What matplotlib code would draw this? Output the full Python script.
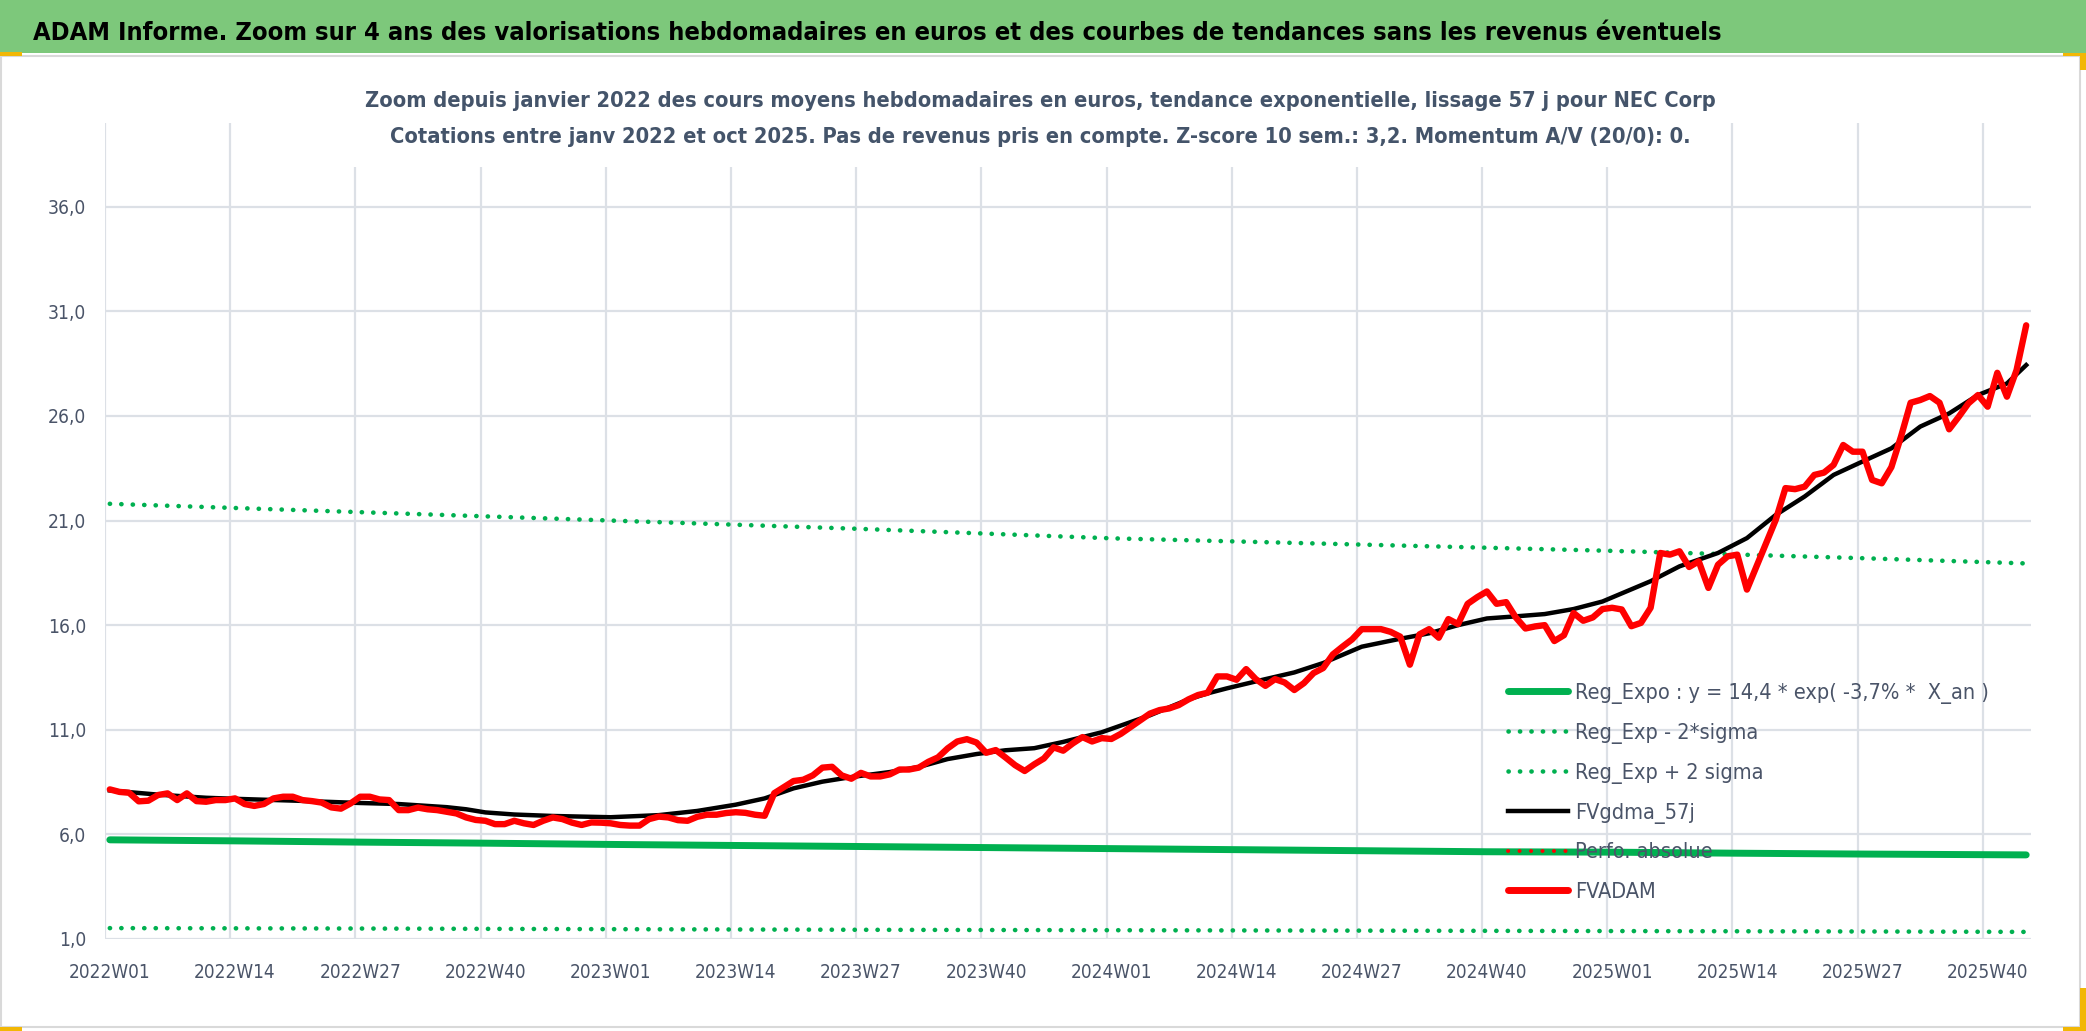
import matplotlib
matplotlib.use("Agg")
import matplotlib.pyplot as plt
from matplotlib.lines import Line2D
from matplotlib.patches import Rectangle
from matplotlib.ticker import FuncFormatter

plt.rcParams['font.family'] = ['Liberation Sans Narrow', 'DejaVu Sans']
plt.rcParams['font.stretch'] = 'condensed'

# ---- data -------------------------------------------------------------
years = [2022, 2023, 2024, 2025]
weeks_per_year = [52, 52, 52, 44]
week_labels = [f"{y}W{w:02d}" for y, n in zip(years, weeks_per_year) for w in range(1, n + 1)]
label_step = 13

# FVADAM : cours moyens hebdomadaires (euros)
fvadam = [
    8.15, 8.03, 7.99, 7.58, 7.61, 7.88, 7.96, 7.64, 7.96, 7.59, 7.56, 7.64, 7.64,
    7.72, 7.45, 7.36, 7.45, 7.72, 7.80, 7.80, 7.64, 7.59, 7.52, 7.29, 7.23, 7.48,
    7.80, 7.80, 7.67, 7.64, 7.16, 7.16, 7.28, 7.20, 7.16, 7.08, 7.00, 6.81, 6.69,
    6.65, 6.49, 6.49, 6.65, 6.53, 6.45, 6.65, 6.81, 6.73, 6.56, 6.45, 6.57, 6.56,
    6.53, 6.45, 6.42, 6.42, 6.73, 6.85, 6.81, 6.68, 6.65, 6.84, 6.94, 6.94, 7.02,
    7.06, 7.03, 6.94, 6.89, 7.97, 8.26, 8.55, 8.61, 8.82, 9.19, 9.23, 8.82, 8.66,
    8.94, 8.77, 8.77, 8.87, 9.10, 9.10, 9.19, 9.47, 9.68, 10.11, 10.44, 10.55, 10.39,
    9.90, 10.03, 9.68, 9.31, 9.03, 9.35, 9.63, 10.16, 10.00, 10.35, 10.65, 10.44, 10.60,
    10.56, 10.81, 11.13, 11.45, 11.77, 11.94, 12.02, 12.18, 12.45, 12.66, 12.77, 13.55, 13.55,
    13.39, 13.90, 13.42, 13.10, 13.42, 13.26, 12.90, 13.23, 13.71, 13.95, 14.60, 14.97, 15.32,
    15.81, 15.81, 15.81, 15.68, 15.45, 14.11, 15.56, 15.81, 15.40, 16.29, 16.05, 17.02, 17.34,
    17.61, 17.02, 17.10, 16.37, 15.84, 15.94, 16.00, 15.24, 15.52, 16.58, 16.21, 16.37, 16.77,
    16.83, 16.75, 15.95, 16.11, 16.83, 19.45, 19.37, 19.53, 18.78, 19.05, 17.78, 18.89, 19.29,
    19.37, 17.70, 18.81, 19.92, 21.04, 22.55, 22.50, 22.62, 23.18, 23.29, 23.66, 24.61, 24.29,
    24.29, 22.94, 22.78, 23.55, 25.01, 26.63, 26.76, 26.95, 26.63, 25.36, 25.96, 26.60, 27.00,
    26.44, 28.06, 26.92, 28.19, 30.33,
]

# FVgdma_57j : lissage, lu sur quelques semaines
gdma_idx = [0, 5, 10, 13, 20, 26, 30, 35, 37, 39, 42, 46, 52, 57, 61, 65, 68, 71, 74, 77,
            81, 84, 87, 90, 93, 96, 99, 103, 108, 112, 114, 116, 120, 123, 126, 130, 134,
            137, 140, 143, 146, 149, 152, 155, 160, 163, 167, 170, 173, 176, 179, 182, 185,
            188, 191, 194, 197, 199]
gdma_val = [8.10, 7.90, 7.75, 7.70, 7.60, 7.50, 7.45, 7.30, 7.20, 7.05, 6.95, 6.88, 6.82,
            6.92, 7.12, 7.42, 7.72, 8.20, 8.52, 8.74, 8.98, 9.22, 9.60, 9.84, 10.02, 10.12,
            10.42, 10.88, 11.69, 12.45, 12.74, 12.98, 13.42, 13.74, 14.19, 14.97, 15.35,
            15.61, 16.00, 16.32, 16.42, 16.53, 16.77, 17.13, 18.10, 18.81, 19.45, 20.16,
            21.27, 22.15, 23.18, 23.82, 24.45, 25.49, 26.12, 27.00, 27.55, 28.43]

# regression exponentielle et bandes +/- 2 sigma
reg_idx = [0, 13, 26, 39, 52, 65, 78, 91, 104, 117, 130, 143, 156, 169, 182, 199]
reg_val = [5.74, 5.69, 5.63, 5.58, 5.52, 5.47, 5.42, 5.37, 5.32, 5.27, 5.22, 5.17, 5.15,
           5.10, 5.06, 5.02]
band_idx = [0, 26, 52, 78, 104, 130, 156, 182, 199]
band_low = [1.52, 1.50, 1.47, 1.44, 1.42, 1.40, 1.38, 1.36, 1.34]
band_high = [21.80, 21.40, 21.00, 20.60, 20.15, 19.85, 19.55, 19.20, 18.95]

y_ticks = [1, 6, 11, 16, 21, 26, 31, 36]

title = ("ADAM Informe. Zoom sur 4 ans des valorisations hebdomadaires en euros "
         "et des courbes de tendances sans les revenus éventuels")
sub1 = ("Zoom depuis janvier 2022 des cours moyens hebdomadaires en euros, "
        "tendance exponentielle, lissage 57 j pour NEC Corp")
sub2 = ("Cotations entre janv 2022 et oct 2025. Pas de revenus pris en compte. "
        "Z-score 10 sem.: 3,2. Momentum A/V (20/0): 0.")
leg_labels = ["Reg_Expo : y = 14,4 * exp( -3,7% *  X_an )", "Reg_Exp - 2*sigma",
              "Reg_Exp + 2 sigma", "FVgdma_57j", "Perfo. absolue", "FVADAM"]

# ---- figure -----------------------------------------------------------
W, H = 2086, 1031
fig = plt.figure(figsize=(W / 100, H / 100), dpi=100, facecolor='white')
PT = 72 / 100  # points per pixel


def fx(px):
    return px / W


def fy(py):
    return 1 - py / H


ax = fig.add_axes([fx(105), fy(939), fx(2031) - fx(105), fy(123) - fy(939)])
ax.set_facecolor('white')
for s in ax.spines.values():
    s.set_visible(False)

n = len(week_labels)
x = list(range(n))
ax.set_xlim(-0.5, n - 0.5)
ax.set_ylim(1, 40)

grid_c = '#DCE0E6'
for yv in y_ticks:
    ax.axhline(yv, color=grid_c, lw=1.6, zorder=0.5)
for k in range(0, n, label_step):
    ax.axvline(k - 0.5, color=grid_c, lw=1.6, zorder=0.5)

green = '#00B050'
dot = (0, (0.05, 2.45))
ax.plot(reg_idx, reg_val, color=green, lw=5, solid_capstyle='round', zorder=3)
ax.plot(band_idx, band_low, color=green, lw=3.3, linestyle=dot, dash_capstyle='round', zorder=3)
ax.plot(band_idx, band_high, color=green, lw=3.3, linestyle=dot, dash_capstyle='round', zorder=3)
ax.plot(gdma_idx, gdma_val, color='black', lw=3.2, solid_joinstyle='round', zorder=4)
ax.plot(x, fvadam, color='#FF0000', lw=4.6, solid_joinstyle='round', solid_capstyle='round', zorder=5)

txt_c = '#4A5468'
ax.set_yticks(y_ticks)
ax.yaxis.set_major_formatter(FuncFormatter(lambda v, p: f"{v:.1f}".replace('.', ',')))
ax.set_xticks(x[::label_step])
ax.set_xticklabels(week_labels[::label_step])
ax.tick_params(axis='both', length=0, colors=txt_c, labelsize=15.5)
ax.tick_params(axis='y', pad=19 * PT)
ax.tick_params(axis='x', pad=18 * PT)

handles = [
    Line2D([], [], color=green, lw=5, solid_capstyle='round'),
    Line2D([], [], color=green, lw=3.3, linestyle=dot, dash_capstyle='round'),
    Line2D([], [], color=green, lw=3.3, linestyle=dot, dash_capstyle='round'),
    Line2D([], [], color='black', lw=3.2),
    Line2D([], [], color='#FF0000', lw=2.8, linestyle=(0, (0.05, 2.9)), dash_capstyle='round'),
    Line2D([], [], color='#FF0000', lw=5, solid_capstyle='round'),
]


def make_legend(fs, spacing, top):
    fs_px = fs / PT
    lg = ax.legend(handles, leg_labels, loc='upper left',
                   bbox_to_anchor=(fx(1508), fy(top)), bbox_transform=fig.transFigure,
                   frameon=False, fontsize=fs, handlelength=60 / fs_px,
                   handletextpad=7 / fs_px, labelspacing=spacing,
                   borderpad=0, borderaxespad=0, labelcolor=txt_c)
    lg.set_zorder(6)
    return lg


# header bar and chart frame
fig.patches.append(Rectangle((0, fy(53)), 1, fy(0) - fy(53), transform=fig.transFigure,
                             facecolor='#7DC87B', edgecolor='none', zorder=0))
fig.patches.append(Rectangle((fx(1), fy(1027)), fx(2080) - fx(1), fy(56) - fy(1027),
                             transform=fig.transFigure, facecolor='none',
                             edgecolor='#D9D9D9', lw=1.5, zorder=1))
# white box behind the chart title
fig.patches.append(Rectangle((fx(345), fy(167)), fx(1725) - fx(345), fy(60) - fy(167),
                             transform=fig.transFigure, facecolor='white',
                             edgecolor='none', zorder=1))
# small selection marks
for (x0, y0, x1, y1) in [(0, 52, 22, 56), (2063, 53, 2086, 56), (2080, 53, 2086, 70),
                         (0, 1027, 22, 1031), (2080, 988, 2086, 1031), (2063, 1027, 2086, 1031)]:
    fig.patches.append(Rectangle((fx(x0), fy(y1)), fx(x1) - fx(x0), fy(y0) - fy(y1),
                                 transform=fig.transFigure, facecolor='#F2B705',
                                 edgecolor='none', zorder=2))

t_title = fig.text(fx(33), fy(40), title, fontsize=23, fontweight='bold', color='black',
                   ha='left', va='baseline')
t_sub1 = fig.text(fx(1040), fy(107), sub1, fontsize=16, fontweight='bold', color='#44546A',
                  ha='center', va='baseline')
t_sub2 = fig.text(fx(1040), fy(143), sub2, fontsize=16, fontweight='bold', color='#44546A',
                  ha='center', va='baseline')

# ---- fit text sizes to the widths measured on the reference -------------
fig.canvas.draw()
r = fig.canvas.get_renderer()
w = t_title.get_window_extent(r).width
t_title.set_fontsize(min(23 * 1697 / w, 23 * 1.3))
w = t_sub1.get_window_extent(r).width
fs_sub = min(16 * 1356 / w, 16 * 1.3)
t_sub1.set_fontsize(fs_sub)
t_sub2.set_fontsize(fs_sub)

xl = ax.get_xticklabels()[0]
fs_xtick = min(15.5 * 81 / xl.get_window_extent(r).width, 17)
yl = ax.get_yticklabels()[2]  # "11,0"
fs_ytick = min(15.5 * 38 / yl.get_window_extent(r).width, 19)
ax.tick_params(axis='x', labelsize=fs_xtick)
ax.tick_params(axis='y', labelsize=fs_ytick)

leg = make_legend(18, 0.45, 679)
fig.canvas.draw()
w0 = leg.get_texts()[0].get_window_extent(r).width
fs_leg = min(18 * 415 / w0, 20)
leg.remove()
leg = make_legend(fs_leg, 0.45, 679)
fig.canvas.draw()
h_txt = leg.get_texts()[0].get_window_extent(r).height
spacing = max((40 - h_txt) * PT / fs_leg, 0.05)
leg.remove()
leg = make_legend(fs_leg, spacing, 679)
fig.canvas.draw()
# shift legend so that first row is centred at y = 693 px
bb = leg.get_texts()[0].get_window_extent(r)
yc = H - (bb.y0 + bb.y1) / 2
leg.remove()
leg = make_legend(fs_leg, spacing, 679 + (693 - yc))

# x tick labels centred at y = 973 px
fig.canvas.draw()
bb = ax.get_xticklabels()[0].get_window_extent(r)
yc = H - (bb.y0 + bb.y1) / 2
ax.tick_params(axis='x', pad=max(18 + (973 - yc), 2) * PT)

fig.savefig('out.png', dpi=100, facecolor='white')
